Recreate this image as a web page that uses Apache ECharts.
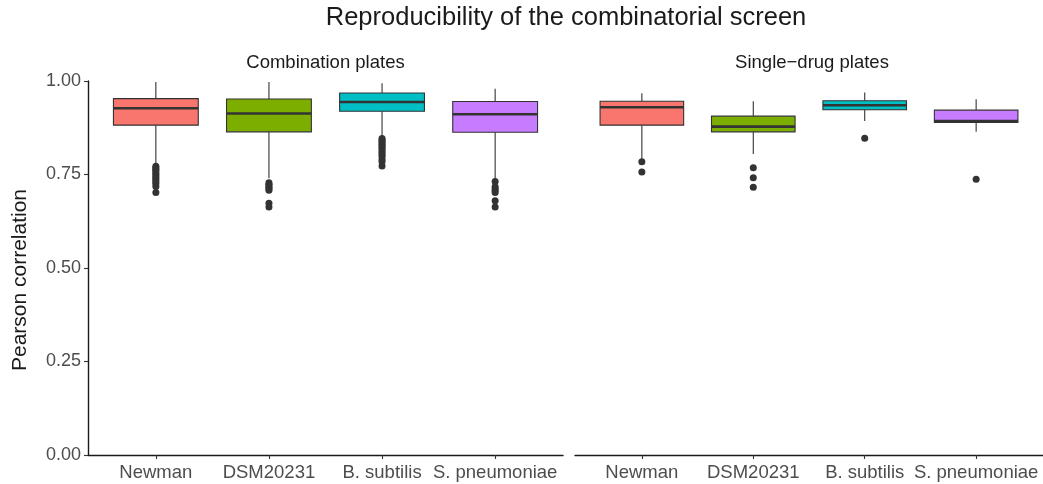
<!DOCTYPE html>
<html>
<head>
<meta charset="utf-8">
<script src="https://cdn.jsdelivr.net/npm/echarts@6/dist/echarts.min.js"></script>
<style>
html,body{margin:0;padding:0;background:#fff;}
#chart{width:1043px;height:484px;}
</style>
</head>
<body>
<div id="chart"></div>
<script>
const categories = ['Newman', 'DSM20231', 'B. subtilis', 'S. pneumoniae'];
const colors = ['#F8766D', '#7CAE00', '#00BFC4', '#C77CFF'];
const yTicks = [0, 0.25, 0.5, 0.75, 1];
// [min whisker, Q1, median, Q3, max whisker]
const comboStats = [
  [0.776, 0.882, 0.927, 0.953, 0.997],
  [0.740, 0.864, 0.913, 0.952, 0.997],
  [0.851, 0.919, 0.944, 0.968, 0.994],
  [0.737, 0.863, 0.911, 0.945, 0.979]
];
const comboOutliers = [
  [0.772, 0.768, 0.764, 0.760, 0.755, 0.750, 0.745, 0.740, 0.735, 0.730, 0.725, 0.718, 0.702],
  [0.728, 0.724, 0.720, 0.716, 0.712, 0.708, 0.673, 0.663],
  [0.846, 0.842, 0.838, 0.834, 0.830, 0.826, 0.822, 0.818, 0.813, 0.808, 0.803, 0.798, 0.790, 0.784, 0.773],
  [0.731, 0.717, 0.712, 0.707, 0.702, 0.680, 0.663]
];
const singleStats = [
  [0.792, 0.882, 0.930, 0.946, 0.967],
  [0.805, 0.864, 0.878, 0.906, 0.946],
  [0.893, 0.923, 0.935, 0.947, 0.969],
  [0.864, 0.889, 0.893, 0.922, 0.951]
];
const singleOutliers = [
  [0.784, 0.757],
  [0.768, 0.741, 0.716],
  [0.847],
  [0.737]
];
const panelTitles = ['Combination plates', 'Single\u2212drug plates'];

const chart = echarts.init(document.getElementById('chart'), null, {renderer: 'canvas'});

function boxData(stats) {
  return stats.map((s, i) => [i + 1].concat(s));
}
function outlierData(outs) {
  const d = [];
  outs.forEach((arr, i) => arr.forEach(v => d.push([i + 1, v])));
  return d;
}
function renderBox(params, api) {
  const x = api.value(0);
  const lo = api.coord([x, api.value(1)]);
  const q1 = api.coord([x, api.value(2)]);
  const med = api.coord([x, api.value(3)]);
  const q3 = api.coord([x, api.value(4)]);
  const hi = api.coord([x, api.value(5)]);
  const w = api.size([0.75, 0])[0];
  const c = colors[params.dataIndex];
  return {
    type: 'group',
    children: [
      {type: 'line', shape: {x1: lo[0], y1: lo[1], x2: q1[0], y2: q1[1]}, style: {stroke: '#333333', lineWidth: 1.1}},
      {type: 'line', shape: {x1: q3[0], y1: q3[1], x2: hi[0], y2: hi[1]}, style: {stroke: '#333333', lineWidth: 1.1}},
      {type: 'rect', shape: {x: q3[0] - w / 2, y: q3[1], width: w, height: q1[1] - q3[1]}, style: {fill: c, stroke: '#333333', lineWidth: 1.1}},
      {type: 'line', shape: {x1: med[0] - w / 2, y1: med[1], x2: med[0] + w / 2, y2: med[1]}, style: {stroke: '#333333', lineWidth: 2.6}}
    ]
  };
}

const fontFamily = '"Liberation Sans", Arial, sans-serif';
function xAxisFor(gi) {
  return {
    type: 'value', gridIndex: gi, min: 0.4, max: 4.6,
    splitLine: {show: false},
    axisLine: {show: true, lineStyle: {color: '#1a1a1a', width: 1.4}},
    axisTick: {show: true, customValues: [1, 2, 3, 4], length: 4, lineStyle: {color: '#333333', width: 1.1}},
    axisLabel: {
      customValues: [1, 2, 3, 4],
      formatter: v => categories[Math.round(v) - 1],
      fontSize: 18.5, color: '#4d4d4d', fontFamily: fontFamily, margin: 8
    }
  };
}

const option = {
  animation: false,
  backgroundColor: '#ffffff',
  textStyle: {fontFamily: fontFamily},
  grid: [
    {left: 88, width: 475, top: 81, height: 374},
    {left: 575, width: 474, top: 81, height: 374}
  ],
  xAxis: [xAxisFor(0), xAxisFor(1)],
  yAxis: [
    {
      type: 'value', gridIndex: 0, min: 0, max: 1, interval: 0.25,
      splitLine: {show: false},
      axisLine: {show: true, lineStyle: {color: '#1a1a1a', width: 1.4}},
      axisTick: {show: true, length: 4, lineStyle: {color: '#333333', width: 1.1}},
      axisLabel: {formatter: v => v.toFixed(2), fontSize: 18, color: '#4d4d4d', fontFamily: fontFamily, margin: 7}
    },
    {type: 'value', gridIndex: 1, min: 0, max: 1, interval: 0.25, show: false}
  ],
  graphic: [
    {type: 'text', x: 566, y: 18, style: {text: 'Reproducibility of the combinatorial screen', font: '25.5px ' + fontFamily, fill: '#1a1a1a', textAlign: 'center', textVerticalAlign: 'middle'}},
    {type: 'text', x: 325.5, y: 63, style: {text: panelTitles[0], font: '18.5px ' + fontFamily, fill: '#1a1a1a', textAlign: 'center', textVerticalAlign: 'middle'}},
    {type: 'text', x: 812, y: 63, style: {text: panelTitles[1], font: '18.5px ' + fontFamily, fill: '#1a1a1a', textAlign: 'center', textVerticalAlign: 'middle'}},
    {type: 'text', x: 20, y: 280, rotation: Math.PI / 2, style: {text: 'Pearson correlation', font: '21px ' + fontFamily, fill: '#1a1a1a', textAlign: 'center', textVerticalAlign: 'middle'}}
  ],
  series: [
    {type: 'custom', xAxisIndex: 0, yAxisIndex: 0, renderItem: renderBox, encode: {x: 0, y: [1, 2, 3, 4, 5]}, data: boxData(comboStats)},
    {type: 'custom', xAxisIndex: 1, yAxisIndex: 1, renderItem: renderBox, encode: {x: 0, y: [1, 2, 3, 4, 5]}, data: boxData(singleStats)},
    {type: 'scatter', xAxisIndex: 0, yAxisIndex: 0, symbolSize: 7, itemStyle: {color: '#333333', opacity: 1}, data: outlierData(comboOutliers)},
    {type: 'scatter', xAxisIndex: 1, yAxisIndex: 1, symbolSize: 7, itemStyle: {color: '#333333', opacity: 1}, data: outlierData(singleOutliers)}
  ]
};
chart.setOption(option);
</script>
</body>
</html>
